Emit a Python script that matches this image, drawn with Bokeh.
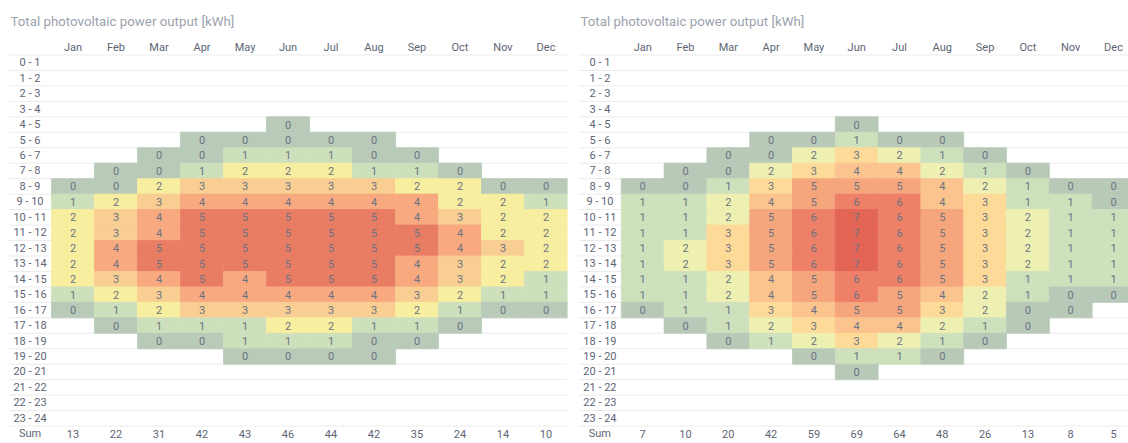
from bokeh.plotting import figure
from bokeh.models import ColumnDataSource, Range1d, LinearColorMapper
from bokeh.layouts import row
from bokeh.embed import file_html
from bokeh.resources import INLINE
from bokeh.core.properties import value
from bokeh.transform import transform

title_text = "Total photovoltaic power output [kWh]"
months = ["Jan", "Feb", "Mar", "Apr", "May", "Jun", "Jul", "Aug", "Sep", "Oct", "Nov", "Dec"]
hours = [f"{h} - {h + 1}" for h in range(24)]
sum_label = "Sum"
N = None

# hourly output per month (rows = hours 0..23, columns = Jan..Dec), None = no output
left_values = [
    [N, N, N, N, N, N, N, N, N, N, N, N],
    [N, N, N, N, N, N, N, N, N, N, N, N],
    [N, N, N, N, N, N, N, N, N, N, N, N],
    [N, N, N, N, N, N, N, N, N, N, N, N],
    [N, N, N, N, N, 0, N, N, N, N, N, N],
    [N, N, N, 0, 0, 0, 0, 0, N, N, N, N],
    [N, N, 0, 0, 1, 1, 1, 0, 0, N, N, N],
    [N, 0, 0, 1, 2, 2, 2, 1, 1, 0, N, N],
    [0, 0, 2, 3, 3, 3, 3, 3, 2, 2, 0, 0],
    [1, 2, 3, 4, 4, 4, 4, 4, 4, 2, 2, 1],
    [2, 3, 4, 5, 5, 5, 5, 5, 4, 3, 2, 2],
    [2, 3, 4, 5, 5, 5, 5, 5, 5, 4, 2, 2],
    [2, 4, 5, 5, 5, 5, 5, 5, 5, 4, 3, 2],
    [2, 4, 5, 5, 5, 5, 5, 5, 4, 3, 2, 2],
    [2, 3, 4, 5, 4, 5, 5, 5, 4, 3, 2, 1],
    [1, 2, 3, 4, 4, 4, 4, 4, 3, 2, 1, 1],
    [0, 1, 2, 3, 3, 3, 3, 3, 2, 1, 0, 0],
    [N, 0, 1, 1, 1, 2, 2, 1, 1, 0, N, N],
    [N, N, 0, 0, 1, 1, 1, 0, 0, N, N, N],
    [N, N, N, N, 0, 0, 0, 0, N, N, N, N],
    [N, N, N, N, N, N, N, N, N, N, N, N],
    [N, N, N, N, N, N, N, N, N, N, N, N],
    [N, N, N, N, N, N, N, N, N, N, N, N],
    [N, N, N, N, N, N, N, N, N, N, N, N],
]
left_sums = [13, 22, 31, 42, 43, 46, 44, 42, 35, 24, 14, 10]

right_values = [
    [N, N, N, N, N, N, N, N, N, N, N, N],
    [N, N, N, N, N, N, N, N, N, N, N, N],
    [N, N, N, N, N, N, N, N, N, N, N, N],
    [N, N, N, N, N, N, N, N, N, N, N, N],
    [N, N, N, N, N, 0, N, N, N, N, N, N],
    [N, N, N, 0, 0, 1, 0, 0, N, N, N, N],
    [N, N, 0, 0, 2, 3, 2, 1, 0, N, N, N],
    [N, 0, 0, 2, 3, 4, 4, 2, 1, 0, N, N],
    [0, 0, 1, 3, 5, 5, 5, 4, 2, 1, 0, 0],
    [1, 1, 2, 4, 5, 6, 6, 4, 3, 1, 1, 0],
    [1, 1, 2, 5, 6, 7, 6, 5, 3, 2, 1, 1],
    [1, 1, 3, 5, 6, 7, 6, 5, 3, 2, 1, 1],
    [1, 2, 3, 5, 6, 7, 6, 5, 3, 2, 1, 1],
    [1, 2, 3, 5, 6, 7, 6, 5, 3, 2, 1, 1],
    [1, 1, 2, 4, 5, 6, 6, 5, 3, 1, 1, 1],
    [1, 1, 2, 4, 5, 6, 5, 4, 2, 1, 0, 0],
    [0, 1, 1, 3, 4, 5, 5, 3, 2, 0, 0, N],
    [N, 0, 1, 2, 3, 4, 4, 2, 1, 0, N, N],
    [N, N, 0, 1, 2, 3, 2, 1, 0, N, N, N],
    [N, N, N, N, 0, 1, 1, 0, N, N, N, N],
    [N, N, N, N, N, 0, N, N, N, N, N, N],
    [N, N, N, N, N, N, N, N, N, N, N, N],
    [N, N, N, N, N, N, N, N, N, N, N, N],
    [N, N, N, N, N, N, N, N, N, N, N, N],
]
right_sums = [7, 10, 20, 42, 59, 69, 64, 48, 26, 13, 8, 5]

# colour per displayed value (style)
left_palette = ["#B9CAB9", "#CEE0BB", "#F8EEA0", "#F9CE92", "#F8A97F", "#E97D63"]
right_palette = ["#B9C9B8", "#CEE1BC", "#EEF0B2", "#FDDA97", "#FBC48F", "#F5A67D", "#ED8067", "#E36555"]

FONT = value("Roboto")
LABEL_COLOR = "#5d6575"
NUM_COLOR = "#6b7383"


def make_chart(values, sums, palette, width, x_end, border_left, border_right):
    n_rows = len(hours) + 2  # header + hours + sum
    p = figure(width=width, height=441, x_range=Range1d(0, x_end), y_range=Range1d(n_rows, 0),
               output_backend="svg", toolbar_location=None,
               min_border_left=border_left, min_border_right=border_right,
               min_border_top=0, min_border_bottom=0)
    p.axis.visible = False
    p.grid.visible = False
    p.outline_line_color = None
    p.background_fill_color = "white"
    p.title.text = title_text
    p.title.text_font = "Roboto"
    p.title.text_font_size = "13.3px"
    p.title.text_font_style = "normal"
    p.title.text_color = "#9ba2ae"
    p.title.offset = 2
    p.title.standoff = 22

    # row separators
    sep = [r + 1 for r in range(n_rows)]
    p.segment(x0=[0] * len(sep), x1=[x_end] * len(sep), y0=sep, y1=sep,
              line_color="#ececec", line_width=1)

    xs, ys, vs, ts = [], [], [], []
    for r, rowvals in enumerate(values):
        for c, v in enumerate(rowvals):
            if v is None:
                continue
            xs.append(c + 1.5)
            ys.append(r + 1.5)
            vs.append(v)
            ts.append(str(v))
    src = ColumnDataSource(dict(x=xs, y=ys, v=vs, t=ts))
    mapper = LinearColorMapper(palette=palette, low=-0.5, high=len(palette) - 0.5)
    p.rect(x="x", y="y", width=1, height=1, source=src,
           fill_color=transform("v", mapper), line_color=transform("v", mapper), line_width=0.8)
    p.text(x="x", y="y", text="t", source=src, text_font=FONT, text_font_size="11px",
           text_color=NUM_COLOR, text_align="center", text_baseline="middle")

    # month header
    p.text(x=[c + 1.5 for c in range(len(months))], y=[0.5] * len(months), text=months,
           text_font=FONT, text_font_size="11px", text_color=LABEL_COLOR,
           text_align="center", text_baseline="middle")
    # row labels
    row_labels = hours + [sum_label]
    p.text(x=[0.5] * len(row_labels), y=[r + 1.5 for r in range(len(row_labels))], text=row_labels,
           text_font=FONT, text_font_size="11px", text_color=LABEL_COLOR,
           text_align="center", text_baseline="middle")
    # sums
    p.text(x=[c + 1.5 for c in range(len(sums))], y=[len(hours) + 1.5] * len(sums),
           text=[str(s) for s in sums],
           text_font=FONT, text_font_size="11px", text_color=LABEL_COLOR,
           text_align="center", text_baseline="middle")
    return p


p_left = make_chart(left_values, left_sums, left_palette, 578, 13, 8, 11)
p_right = make_chart(right_values, right_sums, right_palette, 550, 550 / 42.8, 0, 0)
p = row(p_left, p_right, spacing=0)

open("out.html", "w").write(file_html(p, INLINE))
